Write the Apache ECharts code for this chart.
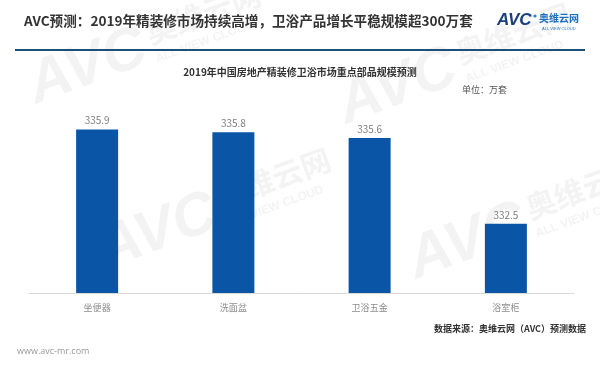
<!DOCTYPE html>
<html><head><meta charset="utf-8">
<script src="https://cdn.jsdelivr.net/npm/echarts@6/dist/echarts.min.js"></script>
<style>html,body{margin:0;padding:0;background:#fff}#c{width:600px;height:373px}</style>
</head><body><div id="c"></div>
<script>
const categories = ['坐便器', '洗面盆', '卫浴五金', '浴室柜'];
const values = [335.9, 335.8, 335.6, 332.5];
const pageTitle = 'AVC预测：2019年精装修市场持续高增，卫浴产品增长平稳规模超300万套';
const chartTitle = '2019年中国房地产精装修卫浴市场重点部品规模预测';
const unitText = '单位：万套';
const sourceText = '数据来源：奥维云网（AVC）预测数据';
const siteText = 'www.avc-mr.com';

const font = '"Noto Sans CJK SC","Noto Sans",sans-serif';
const chart = echarts.init(document.getElementById('c'));

function wm(x, y) {
  const c = 'rgba(120,120,120,0.09)';
  return {
    type: 'group', x: x, y: y, rotation: Math.PI / 9, silent: true, z: 0,
    children: [
      {type: 'text', style: {text: 'AVC', x: 0, y: 0, font: 'italic bold 60px "Liberation Sans",sans-serif', fill: c}},
      {type: 'text', style: {text: '奥维云网', x: 128, y: 4, font: 'bold 30px ' + font, fill: c}},
      {type: 'text', style: {text: 'ALL VIEW CLOUD', x: 128, y: 40, font: 'bold 12px "Liberation Sans",sans-serif', fill: c}}
    ]
  };
}

chart.setOption({
  backgroundColor: '#ffffff',
  animation: false,
  title: [
    {text: chartTitle, left: 'center', top: 62, textStyle: {fontSize: 10, fontWeight: 'bold', color: '#333', fontFamily: font}},
  ],
  grid: {left: 29, right: 26, top: 16, bottom: 80},
  xAxis: {
    type: 'category', data: categories,
    axisLine: {lineStyle: {color: '#d9d9d9', width: 1}},
    axisTick: {show: false},
    axisLabel: {color: '#8c8c8c', fontSize: 9, margin: 10, fontFamily: font}
  },
  yAxis: {type: 'value', min: 330, max: 340, show: false, splitLine: {show: false}},
  series: [{
    type: 'bar', data: values, barWidth: 42,
    itemStyle: {color: '#0a55a5'},
    label: {show: true, position: 'top', distance: 4, color: '#7f7f7f', fontSize: 10, fontFamily: font},
    z: 3
  }],
  graphic: [
    wm(20, 60), wm(330, 80), wm(90, 225), wm(400, 235),
    {type: 'text', left: 24, top: 14, style: {text: pageTitle, font: 'bold 13.6px ' + font, fill: '#333'}},
    {type: 'rect', shape: {x: 15, y: 49, width: 570, height: 2}, style: {fill: '#1f4e79'}},
    {type: 'text', left: 497, top: 12, style: {text: 'AVC', font: 'italic bold 17px "Liberation Sans",sans-serif', fill: '#1a3f7a'}},
    {type: 'circle', shape: {cx: 535, cy: 16, r: 1.6}, style: {fill: '#1e88d0'}},
    {type: 'text', left: 539, top: 13, style: {text: '奥维云网', font: 'bold 10px ' + font, fill: '#1e6fc0'}},
    {type: 'text', left: 542, top: 27, style: {text: 'ALL VIEW CLOUD', font: '4px "Liberation Sans",sans-serif', fill: '#1e6fc0'}},
    {type: 'text', left: 462, top: 85, style: {text: unitText, font: '9px ' + font, fill: '#555'}},
    {type: 'text', right: 14, top: 324, style: {text: sourceText, font: 'bold 9px ' + font, fill: '#333'}},
    {type: 'text', left: 17, top: 347, style: {text: siteText, font: '9px "Open Sans",sans-serif', fill: '#999'}}
  ]
});
</script></body></html>
